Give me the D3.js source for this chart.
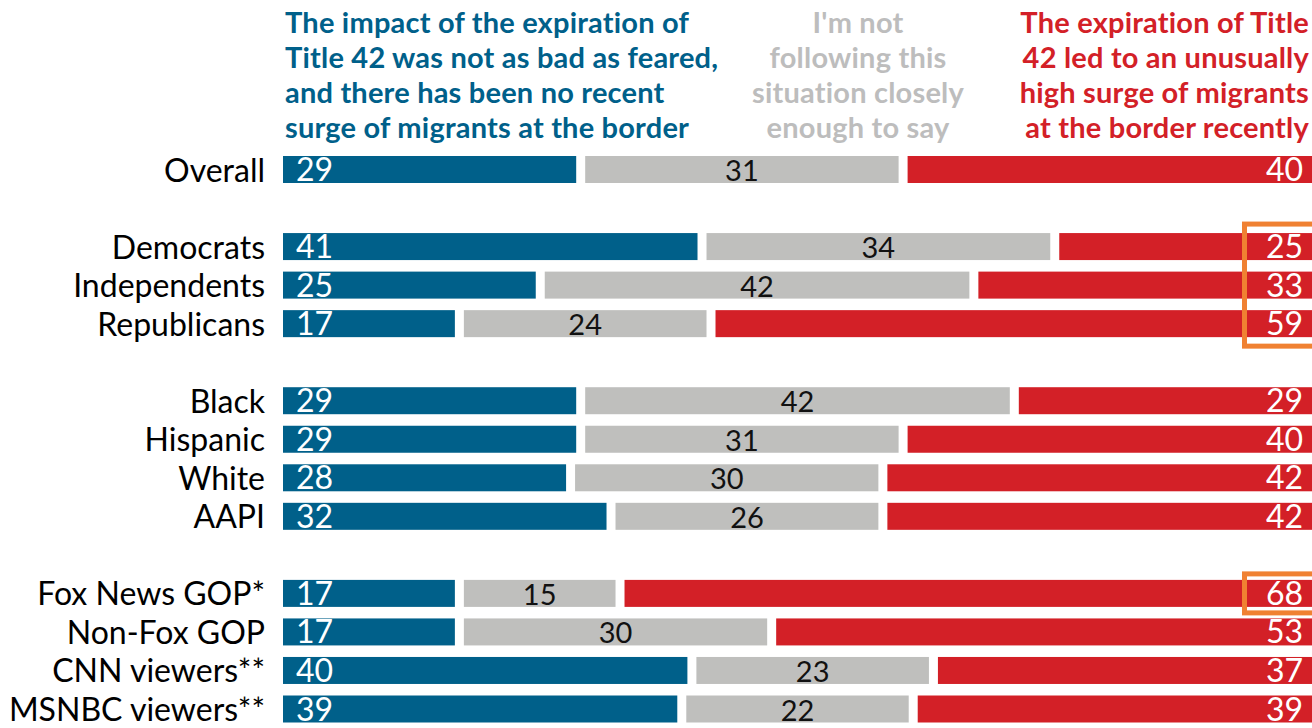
<!DOCTYPE html>
<html>
<head>
<meta charset="utf-8">
<script src="https://cdn.jsdelivr.net/npm/d3@7"></script>
<style>
  html, body { margin: 0; background: #FFF; }
  svg { display: block; font-family: Lato, sans-serif; }
</style>
</head>
<body>
<script>
var w = 1312;
var h = 728;

var categories = ["Overall", "Democrats", "Independents", "Republicans", "Black", "Hispanic", "White", "AAPI",
                  "Fox News GOP*", "Non-Fox GOP", "CNN viewers**", "MSNBC viewers**"];
var groups = [0, 1, 1, 1, 2, 2, 2, 2, 3, 3, 3, 3];
var notBad = [29, 41, 25, 17, 29, 29, 28, 32, 17, 17, 40, 39];
var notFollowing = [31, 34, 42, 24, 42, 31, 30, 26, 15, 30, 23, 22];
var surge = [40, 25, 33, 59, 29, 40, 42, 42, 68, 53, 37, 39];
var seriesNames = [
  ["The impact of the expiration of", "Title 42 was not as bad as feared,", "and there has been no recent", "surge of migrants at the border"],
  ["I'm not", "following this", "situation closely", "enough to say"],
  ["The expiration of Title", "42 led to an unusually", "high surge of migrants", "at the border recently"]
];
var highlighted = [[1, 3], [8, 8]];   // row ranges boxed in orange

var colors = ["#00608A", "#BFBFBD", "#D32027"];
var headColors = ["#00608A", "#BDBDBD", "#D32027"];
var gap = 9, barH = 27;

var svg = d3.select('body').append('svg')
  .attr('width', w)
  .attr('height', h);

var x = d3.scaleLinear().domain([0, 100]).range([283, 283 + 1011]);
var y = d3.scaleLinear().domain([0, 14]).range([169.5, 709]);   // slot index -> bar centre

var rows = categories.map(function(c, i) {
  var vals = [notBad[i], notFollowing[i], surge[i]];
  var cum = 0;
  var segs = vals.map(function(v, j) {
    var s = { v: v, j: j, x0: x(cum) + j * gap, x1: x(cum + v) + j * gap };
    cum += v;
    return s;
  });
  return { name: c, slot: i + groups[i], segs: segs };
});

/* HEADERS */
var headX = [285, 858, 1309];
var headAnchor = ['start', 'middle', 'end'];
seriesNames.forEach(function(lines, j) {
  svg.append('text')
    .attr('x', headX[j])
    .attr('y', 33)
    .attr('text-anchor', headAnchor[j])
    .attr('font-size', '29px')
    .attr('font-weight', 'bold')
    .attr('letter-spacing', '0.2px')
    .attr('fill', headColors[j])
    .selectAll('tspan')
    .data(lines)
    .enter()
    .append('tspan')
    .attr('x', headX[j])
    .attr('dy', function(d, k) { return k === 0 ? 0 : 35; })
    .text(function(d) { return d; });
});

/* BARS */
var row = svg.selectAll('g.row')
  .data(rows)
  .enter()
  .append('g')
  .attr('class', 'row')
  .attr('transform', function(d) { return 'translate(0,' + y(d.slot) + ')'; });

row.append('text')
  .attr('x', 265)
  .attr('y', 12)
  .attr('text-anchor', 'end')
  .attr('font-size', '32px')
  .attr('fill', '#000')
  .text(function(d) { return d.name; });

row.selectAll('rect')
  .data(function(d) { return d.segs; })
  .enter()
  .append('rect')
  .attr('x', function(d) { return d.x0; })
  .attr('y', -barH / 2)
  .attr('width', function(d) { return d.x1 - d.x0; })
  .attr('height', barH)
  .attr('fill', function(d) { return colors[d.j]; });

row.selectAll('text.val')
  .data(function(d) { return d.segs; })
  .enter()
  .append('text')
  .attr('class', 'val')
  .attr('x', function(d) {
    if (d.j === 0) return d.x0 + 13;
    if (d.j === 1) return (d.x0 + d.x1) / 2;
    return d.x1 - 9;
  })
  .attr('y', 11.5)
  .attr('text-anchor', function(d) { return ['start', 'middle', 'end'][d.j]; })
  .attr('font-size', function(d) { return d.j === 1 ? '29px' : '32px'; })
  .attr('fill', function(d) { return d.j === 1 ? '#111' : '#FFF'; })
  .text(function(d) { return d.v; });

/* HIGHLIGHT BOXES */
svg.selectAll('rect.box')
  .data(highlighted)
  .enter()
  .append('rect')
  .attr('class', 'box')
  .attr('x', 1244.5)
  .attr('y', function(d) { return y(rows[d[0]].slot) - barH / 2 - (d[0] === d[1] ? 6 : 9); })
  .attr('width', 100)
  .attr('height', function(d) {
    return y(rows[d[1]].slot) - y(rows[d[0]].slot) + barH + (d[0] === d[1] ? 12 : 18);
  })
  .attr('fill', 'none')
  .attr('stroke', '#F08132')
  .attr('stroke-width', 5);
</script>
</body>
</html>
